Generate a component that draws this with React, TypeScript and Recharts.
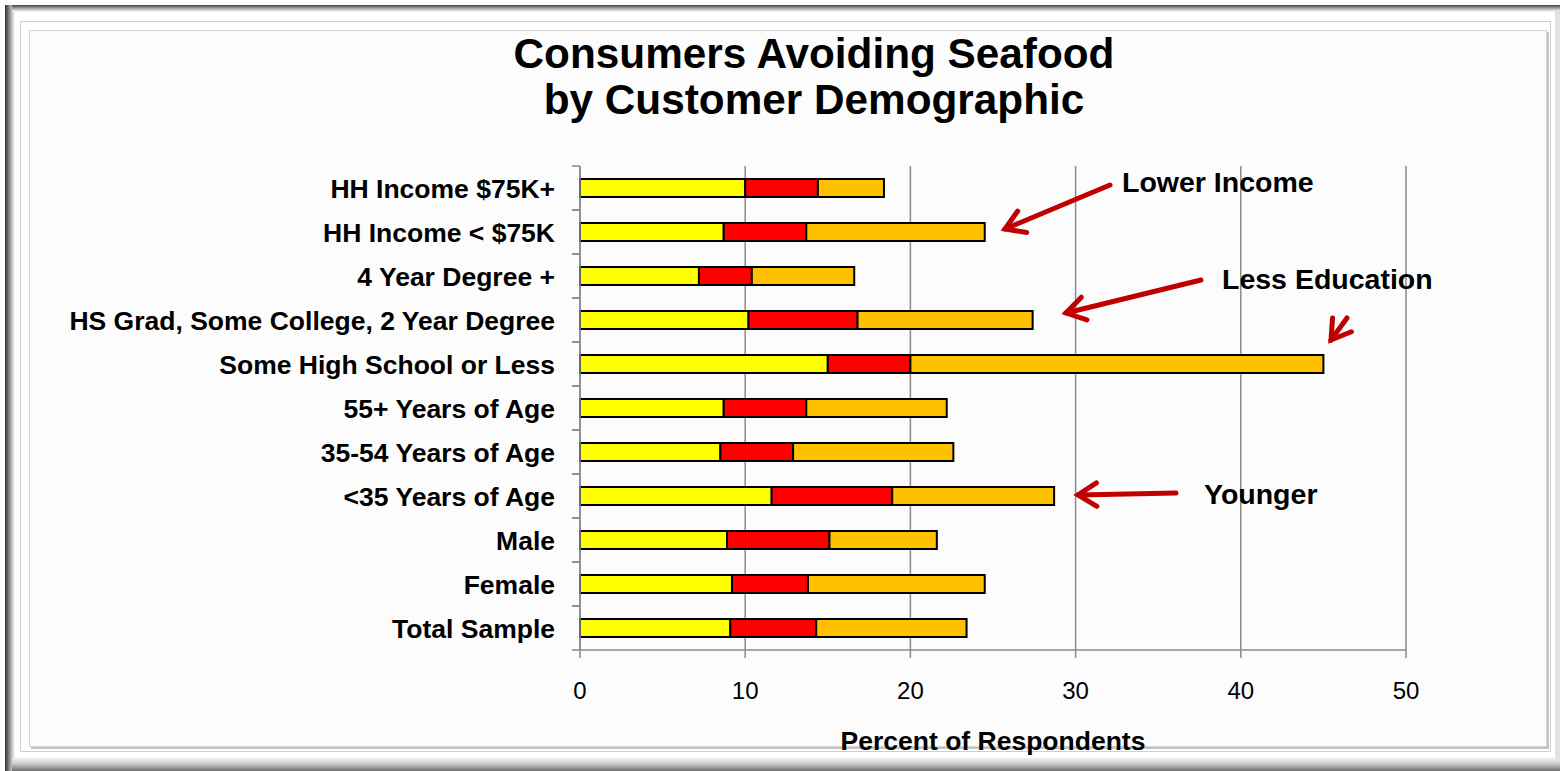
import React from 'react';
import { BarChart, Bar, XAxis, YAxis, CartesianGrid } from 'recharts';

const categories = [
  'HH Income $75K+',
  'HH Income < $75K',
  '4 Year Degree +',
  'HS Grad, Some College, 2 Year Degree',
  'Some High School or Less',
  '55+ Years of Age',
  '35-54 Years of Age',
  '<35 Years of Age',
  'Male',
  'Female',
  'Total Sample',
];
const seriesA = [10.0, 8.7, 7.2, 10.2, 15.0, 8.7, 8.5, 11.6, 8.9, 9.2, 9.1];
const seriesB = [4.4, 5.0, 3.2, 6.6, 5.0, 5.0, 4.4, 7.3, 6.2, 4.6, 5.2];
const seriesC = [4.0, 10.8, 6.2, 10.6, 25.0, 8.5, 9.7, 9.8, 6.5, 10.7, 9.1];
const xTicks = [0, 10, 20, 30, 40, 50];

const data = categories.map((name, i) => ({
  name,
  a: seriesA[i],
  b: seriesB[i],
  c: seriesC[i],
}));

const FONT = '"Liberation Sans", Arial, sans-serif';
const W = 1560;
const H = 771;
const MARGIN = { top: 166, right: 154, bottom: 91, left: 20 };
const Y_AXIS_W = 560;
const X_AXIS_H = 30;
const PLOT_H = H - MARGIN.top - MARGIN.bottom - X_AXIS_H;
const BAND = PLOT_H / categories.length;
const Y_TICK = 8;
const Y_MARGIN = 17;
const AXIS_COLOR = '#8a8a8a';
const ARROW = '#c00000';

const CatTick = (props: any) => {
  const { x, y, payload } = props;
  const ax = x + Y_TICK + Y_MARGIN;
  return (
    <g>
      <line x1={ax - Y_TICK} x2={ax} y1={y - BAND / 2} y2={y - BAND / 2} stroke={AXIS_COLOR} strokeWidth={1.5} />
      <line x1={ax - Y_TICK} x2={ax} y1={y + BAND / 2} y2={y + BAND / 2} stroke={AXIS_COLOR} strokeWidth={1.5} />
      <text x={x} y={y} dy="0.36em" textAnchor="end" fontFamily={FONT} fontWeight="bold" fontSize={26.5} fill="#000">
        {payload.value}
      </text>
    </g>
  );
};

function Arrow({ x1, y1, x2, y2 }: { x1: number; y1: number; x2: number; y2: number }) {
  const ang = Math.atan2(y1 - y2, x1 - x2);
  const L = 22;
  const spread = (32 * Math.PI) / 180;
  const a1x = x2 + L * Math.cos(ang - spread);
  const a1y = y2 + L * Math.sin(ang - spread);
  const a2x = x2 + L * Math.cos(ang + spread);
  const a2y = y2 + L * Math.sin(ang + spread);
  return (
    <g stroke={ARROW} strokeWidth={5} strokeLinecap="round" fill="none">
      <line x1={x1} y1={y1} x2={x2} y2={y2} />
      <polyline points={`${a1x},${a1y} ${x2},${y2} ${a2x},${a2y}`} strokeLinejoin="miter" />
    </g>
  );
}

export default function App() {
  return (
    <div style={{ position: 'absolute', left: 0, top: 0, width: W, height: H, background: '#ffffff', overflow: 'hidden' }}>
      {/* frame */}
      <div style={{ position: 'absolute', left: 5, top: 5, width: 10, height: H - 5, background: 'linear-gradient(to right, #2e2e2e, #9a9a9a 50%, #ffffff)' }} />
      <div style={{ position: 'absolute', left: 12, top: 5, width: W - 12, height: 7, background: 'linear-gradient(to bottom, #444, #bdbdbd 60%, #ffffff)' }} />
      <div style={{ position: 'absolute', left: 12, top: 758, width: W - 12, height: 13, background: 'linear-gradient(to bottom, #f0f0f0, #d0d0d0 40%, #707070)' }} />
      <div style={{ position: 'absolute', left: 1555, top: 10, width: 5, height: 750, background: '#e2e2e2' }} />
      <div style={{ position: 'absolute', left: 20, top: 21, width: 1531, height: 731, border: '1px solid #cfcfcf', boxSizing: 'border-box' }} />
      <div style={{ position: 'absolute', left: 29, top: 30, width: 1518, height: 717, border: '1px solid #d4d4d4', boxSizing: 'border-box', background: '#fcfcfc', boxShadow: '2px 2px 0 #c4c4c4' }} />

      <div style={{ position: 'absolute', left: 0, top: 0 }}>
        <BarChart width={W} height={H} data={data} layout="vertical" margin={MARGIN} barSize={18}>
          <CartesianGrid horizontal={false} vertical={true} stroke={AXIS_COLOR} strokeWidth={1.5} />
          <XAxis
            type="number"
            domain={[0, 50]}
            ticks={xTicks}
            interval={0}
            height={X_AXIS_H}
            stroke={AXIS_COLOR}
            strokeWidth={1.5}
            tickSize={8}
            tickMargin={24}
            tick={{ fill: '#000', fontSize: 24, fontFamily: FONT }}
          />
          <YAxis
            type="category"
            dataKey="name"
            width={Y_AXIS_W}
            interval={0}
            stroke={AXIS_COLOR}
            strokeWidth={1.5}
            tickLine={false}
            tickSize={Y_TICK}
            tickMargin={Y_MARGIN}
            tick={<CatTick />}
          />
          <Bar dataKey="a" stackId="s" fill="#ffff00" stroke="#000" strokeWidth={2} isAnimationActive={false} />
          <Bar dataKey="b" stackId="s" fill="#ff0000" stroke="#000" strokeWidth={2} isAnimationActive={false} />
          <Bar dataKey="c" stackId="s" fill="#ffc000" stroke="#000" strokeWidth={2} isAnimationActive={false} />
        </BarChart>
      </div>

      <svg width={W} height={H} style={{ position: 'absolute', left: 0, top: 0, pointerEvents: 'none' }}>
        <g fontFamily={FONT} fontWeight="bold" fill="#000">
          <text x={814} y={68} textAnchor="middle" fontSize={42.3}>Consumers Avoiding Seafood</text>
          <text x={814} y={114} textAnchor="middle" fontSize={42.3}>by Customer Demographic</text>
          <text x={993} y={750} textAnchor="middle" fontSize={26.5}>Percent of Respondents</text>
          <text x={1122} y={192} fontSize={28.5}>Lower Income</text>
          <text x={1222} y={289} fontSize={28.5}>Less Education</text>
          <text x={1204} y={504} fontSize={28.5}>Younger</text>
        </g>
        <Arrow x1={1110} y1={185} x2={1005} y2={229} />
        <Arrow x1={1201} y1={280} x2={1066} y2={313} />
        <Arrow x1={1347} y1={318} x2={1331} y2={340} />
        <Arrow x1={1176} y1={493} x2={1078} y2={495} />
      </svg>
    </div>
  );
}
